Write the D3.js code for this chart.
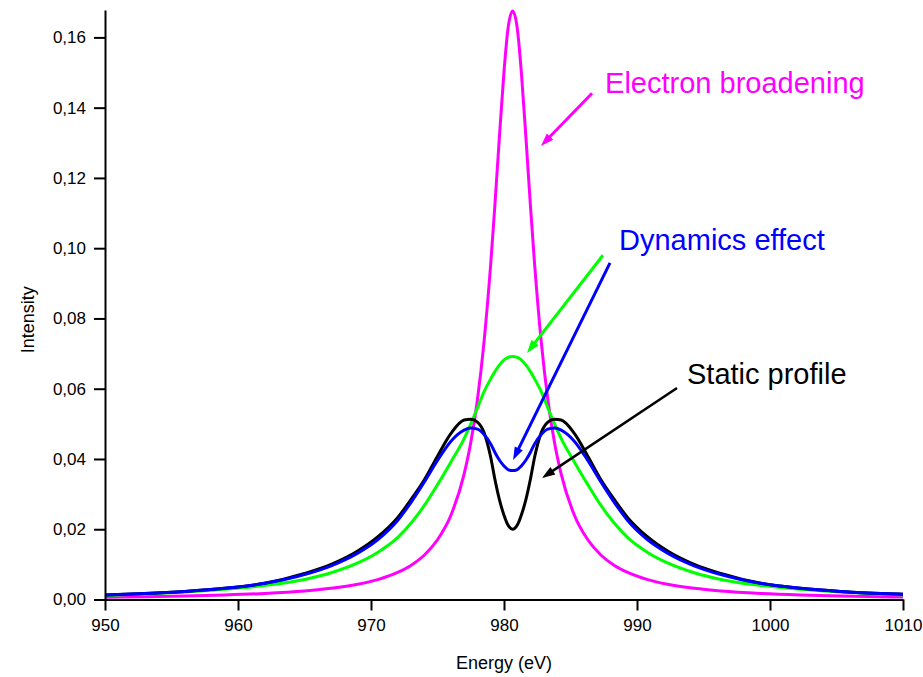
<!DOCTYPE html>
<html><head><meta charset="utf-8">
<script src="https://cdn.jsdelivr.net/npm/d3@7"></script>
<style>
body{margin:0;background:#fff}
svg{display:block}
text{font-family:"Liberation Sans",Arial,Helvetica,sans-serif}
</style>
</head><body>
<svg id="chart" width="923" height="677"></svg>
<script>
// ---- data ----
const energy = [950, 953, 956, 959, 962, 965, 967, 969, 970.5, 972, 973, 974, 975, 976, 977, 977.5, 978, 978.5, 979, 979.3, 979.65, 980, 980.3,
  980.65,
  981, 981.3, 981.65, 982, 982.3, 982.8, 983.3, 983.8, 984.3, 985.3, 986.3, 987.3, 988.3, 989.3, 990.8, 992.3, 994.3, 996.3, 999.3, 1002.3, 1005.3, 1008.3, 1010];

const electronBroadening = [0.00064, 0.00079, 0.00099, 0.00128, 0.00172, 0.00243, 0.00318, 0.00433, 0.00566, 0.0077, 0.0097, 0.0126, 0.0170, 0.0239, 0.0357, 0.0446, 0.0568, 0.0734, 0.0955, 0.1114, 0.1314, 0.1503, 0.1625,
  0.1675,
  0.1625, 0.1503, 0.1314, 0.1114, 0.0955, 0.0734, 0.0568, 0.0446, 0.0357, 0.0239, 0.0170, 0.0126, 0.0097, 0.0077, 0.00566, 0.00433, 0.00318, 0.00243, 0.00172, 0.00128, 0.00099, 0.00079, 0.0007];

const dynamicsGreen = [0.0011, 0.0016, 0.0021, 0.0029, 0.0040, 0.0057, 0.0076, 0.0104, 0.0134, 0.0176, 0.0217, 0.0267, 0.0327, 0.0391, 0.0458, 0.0500, 0.0545, 0.0592, 0.0628, 0.0648, 0.0667, 0.0682, 0.0689,
  0.0692,
  0.0689, 0.0682, 0.0667, 0.0648, 0.0628, 0.0592, 0.0545, 0.0500, 0.0458, 0.0391, 0.0327, 0.0267, 0.0217, 0.0176, 0.0134, 0.0104, 0.0076, 0.0057, 0.0040, 0.0029, 0.0021, 0.0016, 0.0013];

const dynamicsBlue = [0.0013, 0.0017, 0.0023, 0.0032, 0.0046, 0.0071, 0.0096, 0.0132, 0.0170, 0.0225, 0.0276, 0.0334, 0.0396, 0.0450, 0.0482, 0.0488, 0.0485, 0.0470, 0.0443, 0.0420, 0.0397, 0.0380, 0.0370,
  0.0367,
  0.0370, 0.0380, 0.0397, 0.0420, 0.0443, 0.0470, 0.0485, 0.0488, 0.0482, 0.0450, 0.0396, 0.0334, 0.0276, 0.0225, 0.0170, 0.0132, 0.0096, 0.0071, 0.0046, 0.0032, 0.0023, 0.0017, 0.0015];

const staticProfile = [0.0013, 0.0017, 0.0023, 0.0032, 0.0046, 0.0074, 0.0100, 0.0138, 0.0178, 0.0233, 0.0284, 0.0340, 0.0408, 0.0472, 0.0511, 0.0513, 0.0505, 0.0475, 0.0405, 0.0345, 0.0285, 0.0240, 0.0212,
  0.0200,
  0.0212, 0.0240, 0.0285, 0.0345, 0.0405, 0.0475, 0.0505, 0.0513, 0.0511, 0.0472, 0.0408, 0.0340, 0.0284, 0.0233, 0.0178, 0.0138, 0.0100, 0.0074, 0.0046, 0.0032, 0.0023, 0.0017, 0.0015];

const xTicks = [950, 960, 970, 980, 990, 1000, 1010];
const xTickLabels = ["950", "960", "970", "980", "990", "1000", "1010"];
const xMinorTicks = [955, 965, 975, 985, 995, 1005];
const yTicks = [0, 0.02, 0.04, 0.06, 0.08, 0.10, 0.12, 0.14, 0.16];
const yTickLabels = ["0,00", "0,02", "0,04", "0,06", "0,08", "0,10", "0,12", "0,14", "0,16"];
const yMinorTicks = [0.01, 0.03, 0.05, 0.07, 0.09, 0.11, 0.13, 0.15];

const xTitle = "Energy (eV)";
const yTitle = "Intensity";

// annotation labels: text, energy, intensity of baseline start
const labelTexts = ["Electron broadening", "Dynamics effect", "Static profile"];
const labelEnergy = [987.6, 988.65, 993.76];
const labelIntensity = [0.1441, 0.0994, 0.0612];
// arrows: start energy/intensity -> tip energy/intensity
const arrowFromE = [986.62, 987.44, 987.97, 993.01];
const arrowFromI = [0.1441, 0.0980, 0.0958, 0.0602];
const arrowToE = [982.78, 981.73, 980.68, 982.86];
const arrowToI = [0.1291, 0.0702, 0.0397, 0.0346];

// ---- drawing ----
const colors = {magenta: "#ff00ff", green: "#00ff00", blue: "#0000ff", black: "#000000"};
const svg = d3.select("#chart");
const x = d3.scaleLinear().domain([950, 1010]).range([105, 903]);
const y = d3.scaleLinear().domain([0, 0.1678]).range([599.5, 10]);

// curves
const series = [
  {vals: electronBroadening, color: colors.magenta},
  {vals: dynamicsGreen, color: colors.green},
  {vals: staticProfile, color: colors.black},
  {vals: dynamicsBlue, color: colors.blue}
];
const line = d3.line().x(d => x(d[0])).y(d => y(d[1])).curve(d3.curveMonotoneX);
series.forEach(s => {
  svg.append("path")
    .datum(energy.map((e, i) => [e, s.vals[i]]))
    .attr("d", line)
    .attr("fill", "none")
    .attr("stroke", s.color)
    .attr("stroke-width", 3)
    .attr("stroke-linejoin", "round");
});

// axes
const fmtY = d => yTickLabels[yTicks.indexOf(d)];
const fmtX = d => xTickLabels[xTicks.indexOf(d)];

const gx = svg.append("g").attr("transform", `translate(0,${y(0)})`);
gx.call(d3.axisBottom(x).tickValues(xMinorTicks).tickSize(6).tickFormat("").tickSizeOuter(0));
gx.call(d3.axisBottom(x).tickValues(xTicks).tickSize(11).tickPadding(8).tickFormat(fmtX).tickSizeOuter(0));

const gy = svg.append("g").attr("transform", `translate(${x(950)},0)`);
gy.call(d3.axisLeft(y).tickValues(yMinorTicks).tickSize(6).tickFormat("").tickSizeOuter(0));
gy.call(d3.axisLeft(y).tickValues(yTicks).tickSize(11).tickPadding(8).tickFormat(fmtY).tickSizeOuter(0));

svg.selectAll(".domain").attr("stroke", "#000").attr("stroke-width", 2);
svg.selectAll(".tick line").attr("stroke", "#000").attr("stroke-width", 2);
svg.selectAll(".tick text").attr("font-size", 17).attr("fill", "#000")
  .attr("font-family", '"Liberation Sans", Arial, sans-serif');

svg.append("text")
  .attr("x", (x(950) + x(1010)) / 2).attr("y", 669)
  .attr("text-anchor", "middle").attr("font-size", 18).attr("fill", "#000")
  .text(xTitle);
svg.append("text")
  .attr("transform", `translate(34,${(y(0) + y(0.1678)) / 2 + 15}) rotate(-90)`)
  .attr("text-anchor", "middle").attr("font-size", 18).attr("fill", "#000")
  .text(yTitle);

// annotation labels
const labelColors = [colors.magenta, colors.blue, colors.black];
labelTexts.forEach((t, i) => {
  svg.append("text")
    .attr("x", x(labelEnergy[i])).attr("y", y(labelIntensity[i]))
    .attr("font-size", 29).attr("fill", labelColors[i])
    .text(t);
});

// arrows
const arrowColors = [colors.magenta, colors.green, colors.blue, colors.black];
const arrowWidths = [3, 3, 3, 2.5];
arrowFromE.forEach((e, i) => {
  const x1 = x(e), y1 = y(arrowFromI[i]);
  const x2 = x(arrowToE[i]), y2 = y(arrowToI[i]);
  const dx = x2 - x1, dy = y2 - y1, len = Math.hypot(dx, dy);
  const ux = dx / len, uy = dy / len;
  const hl = 13, hw = 4.5;
  const bx = x2 - ux * hl, by = y2 - uy * hl;
  svg.append("line")
    .attr("x1", x1).attr("y1", y1).attr("x2", bx + ux * 2).attr("y2", by + uy * 2)
    .attr("stroke", arrowColors[i]).attr("stroke-width", arrowWidths[i]);
  svg.append("path")
    .attr("d", `M${x2},${y2}L${bx - uy * hw},${by + ux * hw}L${bx + uy * hw},${by - ux * hw}Z`)
    .attr("fill", arrowColors[i]);
});
</script>
</body></html>
